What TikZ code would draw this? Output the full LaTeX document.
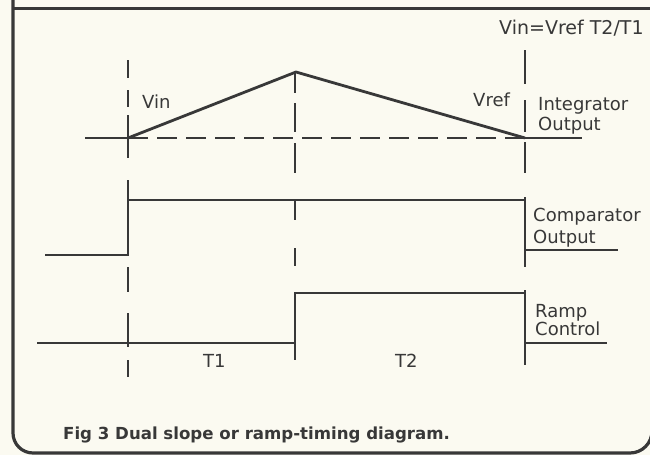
\documentclass[tikz,border=0pt]{standalone}
\usepackage{fontspec}
\setmainfont{DejaVu Sans}
\definecolor{ink}{HTML}{383838}
\definecolor{paper}{HTML}{FBFAF1}
\begin{document}
\begin{tikzpicture}[x=1pt,y=-1pt,
  wave/.style={draw=ink,line width=2pt},
  slope/.style={draw=ink,line width=2.8pt,line join=miter},
  frameline/.style={draw=ink,line width=3.2pt},
  dashline/.style={draw=ink,line width=1.8pt,dash pattern=on 20pt off 9pt},
  tick/.style={draw=ink,line width=1.9pt},
  lbl/.style={inner sep=0pt,anchor=base west,text=ink,font=\fontsize{18}{20}\selectfont},
  capstyle/.style={inner sep=0pt,anchor=base west,text=ink,font=\fontsize{16.6}{19}\selectfont\bfseries}]
\useasboundingbox (0,0) rectangle (650,455);
\fill[paper] (0,0) rectangle (650,455);
% frame
\draw[frameline] (13,0) -- (13,433) arc[start angle=180,end angle=90,radius=20] -- (630,453)
  arc[start angle=90,end angle=0,radius=22] -- ++(0,-440);
\draw[frameline] (13,8.5) -- (652,8.5);
% key coordinates
\coordinate (il) at (85,138);
\coordinate (A) at (128,138);
\coordinate (P) at (296,72);
\coordinate (B) at (525,138);
\coordinate (ir) at (582,138);
% integrator output
\draw[wave] (il) -- (A);
\draw[dashline] (A) -- (B);
\draw[wave] (B) -- (ir);
\draw[slope] (A) -- (P) -- (B);
% comparator output
\coordinate (c0) at (45,255);
\coordinate (c1) at (128,255);
\coordinate (c2) at (128,200);
\coordinate (c3) at (525,200);
\coordinate (c4) at (525,250);
\coordinate (c5) at (618,250);
\draw[wave] (c0) -- (c1) -- (c2) -- (c3) -- (c4) -- (c5);
\draw[wave] (128,180) -- (c2);
\draw[wave] (525,197) -- (c3);
\draw[wave] (c4) -- (525,267);
% ramp control
\coordinate (r0) at (37,343);
\coordinate (r1) at (295,343);
\coordinate (r2) at (295,293);
\coordinate (r3) at (525,293);
\coordinate (r4) at (525,343);
\coordinate (r5) at (607,343);
\draw[wave] (r0) -- (r1) -- (r2) -- (r3) -- (r4) -- (r5);
\draw[wave] (r1) -- (295,360);
\draw[wave] (525,290) -- (r3);
\draw[wave] (r4) -- (525,365);
% dashed time markers
\foreach \a/\b in {60/78,90/107,115/158,267/292,313/347,360/377}
  \draw[tick] (128,\a) -- (128,\b);
\foreach \a/\b in {72/93,103/132,143/173,200/220,248/266}
  \draw[tick] (295,\a) -- (295,\b);
\foreach \a/\b in {50/84,100/132,142/173}
  \draw[tick] (525,\a) -- (525,\b);
% labels
\node[lbl,font=\fontsize{19}{21}\selectfont] (eq) at (499,34) {Vin=Vref T2/T1};
\node[lbl] (vin) at (142,108) {Vin};
\node[lbl] (vref) at (473,106) {Vref};
\node[lbl] (int1) at (538,110) {Integrator};
\node[lbl] (int2) at (538,130) {Output};
\node[lbl] (cmp1) at (533,221) {Comparator};
\node[lbl] (cmp2) at (533,243) {Output};
\node[lbl] (rmp1) at (535,317) {Ramp};
\node[lbl] (rmp2) at (535,335) {Control};
\node[lbl] (t1) at (203,367) {T1};
\node[lbl] (t2) at (395,367) {T2};
\node[capstyle] (caption) at (63,439) {Fig 3 Dual slope or ramp-timing diagram.};
\end{tikzpicture}
\end{document}
